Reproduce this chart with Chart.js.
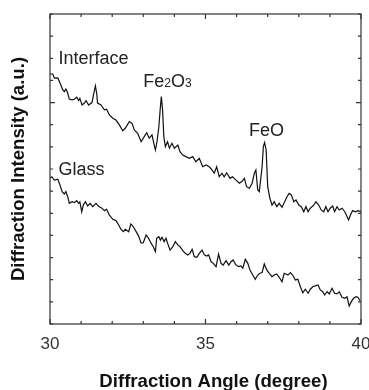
<!DOCTYPE html>
<html><head><meta charset="utf-8">
<script src="https://cdn.jsdelivr.net/npm/chart.js@4.4.1/dist/chart.umd.min.js"></script>
<style>html,body{margin:0;padding:0;background:#fff}#wrap{width:369px;height:390px;position:relative}</style>
</head><body><div id="wrap"><canvas id="c"></canvas></div>
<script>
const xMajorLabels = [30, 35, 40];
const interfaceAngles = [30.00,30.09,30.14,30.25,30.35,30.41,30.46,30.51,30.57,30.62,
30.71,30.78,30.86,30.92,30.96,31.03,31.10,31.16,31.24,31.35,
31.41,31.46,31.50,31.53,31.64,31.75,31.82,31.91,32.02,32.12,
32.23,32.34,32.42,32.55,32.64,32.71,32.82,32.93,33.03,33.11,
33.19,33.28,33.35,33.39,33.44,33.50,33.55,33.58,33.62,33.66,
33.71,33.78,33.84,33.92,34.00,34.11,34.18,34.27,34.37,34.48,
34.59,34.69,34.80,34.91,35.02,35.12,35.21,35.28,35.36,35.44,
35.53,35.60,35.68,35.79,35.87,35.98,36.09,36.17,36.25,36.32,
36.41,36.50,36.57,36.62,36.68,36.73,36.82,36.86,36.90,36.95,
37.00,37.07,37.14,37.21,37.29,37.37,37.46,37.53,37.62,37.69,
37.76,37.84,37.91,38.00,38.08,38.16,38.23,38.30,38.37,38.48,
38.55,38.64,38.72,38.80,38.87,38.94,39.01,39.09,39.15,39.23,
39.30,39.39,39.48,39.55,39.60,39.66,39.73,39.82,39.90,40.00];
const interfaceIntensity = [11.29,11.29,11.10,11.11,10.79,10.57,10.49,10.61,10.43,10.16,
10.12,10.15,10.24,10.09,10.19,9.89,9.97,10.09,9.89,10.00,
10.43,10.75,10.42,9.98,9.89,9.67,9.70,9.44,9.29,9.21,
8.99,8.73,8.84,9.14,9.06,8.76,8.61,8.23,8.46,8.64,
8.39,8.54,8.08,7.86,8.23,8.91,9.81,10.27,9.67,8.46,
8.01,8.23,7.94,8.16,7.94,8.08,7.78,7.63,7.56,7.48,
7.56,7.33,7.48,7.10,7.18,7.10,6.96,6.81,7.10,6.65,
6.81,6.65,6.83,6.58,6.65,6.50,6.36,6.43,6.58,6.20,
6.13,6.36,6.81,6.96,6.05,5.98,7.10,8.01,8.19,7.86,
6.20,5.68,5.37,5.52,5.30,5.45,5.27,5.48,5.75,5.90,
5.83,5.52,5.60,5.37,5.30,5.07,5.30,5.07,5.23,5.37,
5.52,5.37,5.15,5.07,5.30,5.07,5.23,5.33,5.07,5.30,
5.15,5.23,5.07,4.85,4.70,4.92,5.12,5.07,5.12,5.07];
const glassAngles = [30.00,30.06,30.14,30.25,30.32,30.39,30.46,30.51,30.57,30.62,
30.71,30.78,30.86,30.92,30.96,31.02,31.07,31.14,31.21,31.29,
31.37,31.48,31.57,31.67,31.75,31.82,31.91,32.02,32.12,32.21,
32.28,32.36,32.42,32.53,32.60,32.68,32.77,32.85,32.93,33.00,
33.09,33.17,33.25,33.32,33.39,33.43,33.50,33.55,33.60,33.67,
33.73,33.78,33.86,33.95,34.03,34.11,34.18,34.27,34.35,34.43,
34.50,34.57,34.64,34.72,34.80,34.89,34.96,35.04,35.10,35.18,
35.25,35.34,35.42,35.50,35.57,35.66,35.75,35.82,35.89,35.98,
36.07,36.14,36.20,36.28,36.36,36.43,36.52,36.60,36.68,36.75,
36.82,36.89,36.97,37.05,37.14,37.21,37.29,37.37,37.46,37.53,
37.65,37.73,37.80,37.89,37.97,38.05,38.13,38.21,38.30,38.37,
38.45,38.53,38.62,38.69,38.77,38.83,38.91,38.98,39.07,39.15,
39.23,39.30,39.39,39.48,39.55,39.62,39.69,39.76,39.84,39.90,39.97];
const glassIntensity = [6.58,6.65,6.50,6.54,6.28,5.98,5.87,5.98,5.75,5.45,
5.52,5.48,5.57,5.45,5.52,5.07,5.37,5.52,5.33,5.45,
5.30,5.45,5.30,5.23,5.12,5.18,4.92,4.73,4.67,4.47,
4.28,4.17,4.28,4.17,4.52,4.39,4.17,3.97,3.65,3.67,
4.02,3.87,3.65,3.49,3.27,3.87,3.94,3.79,3.92,3.72,
3.87,3.65,3.34,3.49,3.72,3.57,3.49,3.31,3.19,3.12,
3.19,3.37,3.04,3.01,3.19,3.34,3.12,3.07,3.12,2.81,
2.74,2.59,3.16,2.74,2.66,2.86,2.66,2.81,2.89,2.66,
2.59,2.62,2.52,2.92,2.74,2.44,2.21,2.02,2.21,2.29,
2.32,2.71,2.44,2.29,2.14,2.21,2.26,2.11,1.91,2.29,
2.21,2.32,2.21,1.99,2.02,1.68,1.41,1.57,1.39,1.57,
1.68,1.72,1.76,1.54,1.46,1.31,1.46,1.36,1.61,1.39,
1.36,1.46,1.21,1.16,1.23,0.81,1.01,1.16,1.23,1.21,1.05];

const FONT = "'Liberation Sans', Arial, Helvetica, sans-serif";
const X_TITLE = 'Diffraction Angle (degree)';
// text labels: anchored in data coordinates (angle, intensity) at left baseline
const labels = [
  {parts: [['Interface', 18]], x: 30.27, y: 11.72},
  {parts: [['Glass', 18]], x: 30.27, y: 6.73},
  {parts: [['Fe', 18], ['2', 12], ['O', 18], ['3', 12]], x: 33.00, y: 10.69},
  {parts: [['FeO', 18]], x: 36.40, y: 8.49}
];

const toPts = (xs, ys) => xs.map((v, i) => ({x: v, y: ys[i]}));

const framePlugin = {
  id: 'frame',
  afterDatasetsDraw(chart) {
    const {ctx, chartArea: a, scales: {x, y}} = chart;
    ctx.save();
    ctx.strokeStyle = '#333';
    ctx.lineWidth = 1.2;
    ctx.strokeRect(a.left, a.top, a.right - a.left, a.bottom - a.top);
    ctx.beginPath();
    x.ticks.forEach(t => {
      const px = x.getPixelForValue(t.value);
      const len = xMajorLabels.includes(t.value) ? 5 : 3;
      ctx.moveTo(px, a.bottom); ctx.lineTo(px, a.bottom - len);
      ctx.moveTo(px, a.top); ctx.lineTo(px, a.top + len);
    });
    y.ticks.forEach(t => {
      const py = y.getPixelForValue(t.value);
      const len = t.value === 10 ? 5 : 3;
      ctx.moveTo(a.left, py); ctx.lineTo(a.left + len, py);
      ctx.moveTo(a.right, py); ctx.lineTo(a.right - len, py);
    });
    ctx.stroke();
    ctx.fillStyle = '#222';
    ctx.textBaseline = 'alphabetic';
    ctx.textAlign = 'left';
    labels.forEach(l => {
      let px = x.getPixelForValue(l.x);
      const py = y.getPixelForValue(l.y);
      l.parts.forEach(([txt, size]) => {
        ctx.font = size + 'px ' + FONT;
        ctx.fillText(txt, px, py);
        px += ctx.measureText(txt).width;
      });
    });
    // x axis title (slightly right of centre, as in the original figure)
    ctx.fillStyle = '#111';
    ctx.font = 'bold 18.6px ' + FONT;
    ctx.textAlign = 'center';
    ctx.fillText(X_TITLE, (a.left + a.right) / 2 + 8, x.bottom - 3.3);
    ctx.restore();
  }
};

new Chart(document.getElementById('c'), {
  type: 'line',
  data: {
    datasets: [
      {label: 'Interface', data: toPts(interfaceAngles, interfaceIntensity)},
      {label: 'Glass', data: toPts(glassAngles, glassIntensity)}
    ]
  },
  options: {
    responsive: true,
    maintainAspectRatio: false,
    animation: false,
    events: [],
    layout: {padding: {top: 14, right: 8, left: 0, bottom: 0}},
    elements: {
      point: {radius: 0},
      line: {borderColor: '#111', borderWidth: 1.2, tension: 0, fill: false}
    },
    plugins: {legend: {display: false}, tooltip: {enabled: false}},
    scales: {
      x: {
        type: 'linear', min: 30, max: 40,
        grid: {display: false, drawTicks: false},
        border: {display: false},
        ticks: {
          stepSize: 1, autoSkip: false, maxRotation: 0, padding: 10,
          color: '#333', font: {family: FONT, size: 17},
          callback: v => xMajorLabels.includes(v) ? String(v) : ''
        },
        title: {display: false, text: X_TITLE},
        afterFit(s) { s.height = 66; s.paddingLeft = 0; s.paddingRight = 0; }
      },
      y: {
        min: 0, max: 14,
        grid: {display: false, drawTicks: false},
        border: {display: false},
        ticks: {display: false, stepSize: 1},
        title: {display: true, text: 'Diffraction Intensity (a.u.)', color: '#111',
          font: {family: FONT, size: 18.6, weight: 'bold', lineHeight: 1},
          padding: {top: 10, bottom: 0}},
        afterFit(s) { s.width = 50; s.paddingTop = 0; s.paddingBottom = 0; }
      }
    }
  },
  plugins: [framePlugin]
});
</script>
</body></html>
